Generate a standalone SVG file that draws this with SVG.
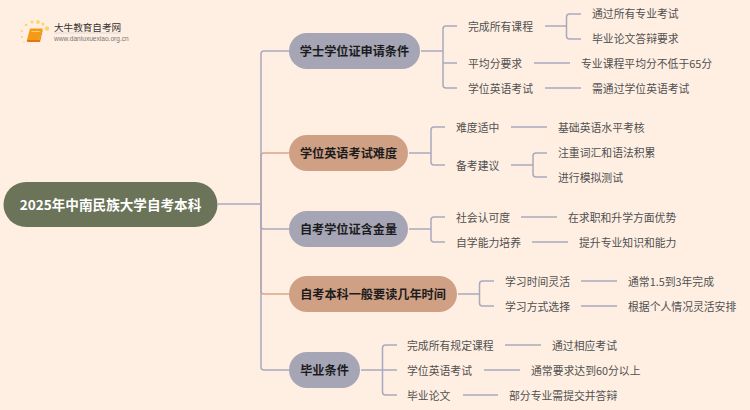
<svg xmlns="http://www.w3.org/2000/svg" width="750" height="410" viewBox="0 0 750 410">
<style>
text{font-family:"Noto Sans CJK SC","Noto Sans",sans-serif;dominant-baseline:central}
.l{font-size:10.830px;fill:#505050}
.b{font-size:12.150px;font-weight:700;fill:#1c1c1c;text-anchor:middle}
.c path{fill:none;stroke:#a9a9bd;stroke-width:1.500}
.c path.o{stroke:#d7a68b}
.gray{fill:#a5a5b6}.tan{fill:#d0a085}
</style>
<rect width="750" height="410" fill="#ffefe3"/>
<g id="connectors" class="c">
<path class="o" d="M261 204V156Q261 153 264 153H289"/>
<path class="o" d="M261 204V291Q261 294 264 294H289"/>
<path d="M218 204H261"/>
<path d="M261 204V54Q261 51 264 51H289"/>
<path d="M261 204V226Q261 229 264 229H289"/>
<path d="M261 204V367Q261 370 264 370H289"/>
<path d="M421 51H443M457 26H446Q443 26 443 29V85Q443 88 446 88H457M443 63H457"/>
<path d="M545 26H566.500M581 14H569.500Q566.500 14 566.500 17V36Q566.500 39 569.500 39H581"/>
<path d="M534 63H570M545 88H581"/>
<path d="M409 153H431M445 127H434Q431 127 431 130V162Q431 165 434 165H445"/>
<path d="M511 127H547M511 165H533M547 153H536Q533 153 533 156V174Q533 177 536 177H547"/>
<path d="M409 229H431M445 217H434Q431 217 431 220V239Q431 242 434 242H445"/>
<path d="M521 217H557M532 242H568"/>
<path d="M458 294H479.500M494 281H482.500Q479.500 281 479.500 284V303Q479.500 306 482.500 306H494"/>
<path d="M581 281H617M581 306H617"/>
<path d="M361 370H382.500M397 345H385.500Q382.500 345 382.500 348V392Q382.500 395 385.500 395H397M382.500 370H397"/>
<path d="M505 345H541M484 370H520M463 395H498"/>
</g>
<g id="logo">
<g fill="#fdd46a">
<circle cx="47" cy="28.500" r="2.200"/><circle cx="43" cy="24" r="1.600"/><circle cx="38" cy="22" r="1.900"/><circle cx="32" cy="22" r="1.600"/><circle cx="26" cy="25" r="1.300"/><circle cx="22" cy="31" r="1.100"/><circle cx="22" cy="37" r="1"/><circle cx="24" cy="42" r=".8"/>
</g>
<path d="M30 28.500H42.500L39.500 40H27Z" fill="#f59a16"/>
<path d="M27 40H39.500L42.500 28.500V31L40 42H29Q26 42 27 40Z" fill="#e0780c"/>
<path d="M31.500 31.500H39.500" stroke="#ffd27a" stroke-width="1"/>
<text x="54" y="26.500" font-size="9.600" fill="#333">大牛教育自考网</text>
<path d="M54 33H121" stroke="#ccc" stroke-width=".6"/>
<text x="54" y="38.500" font-size="6.600" fill="#777" style="font-family:'Liberation Sans',sans-serif">www.daniuxuexiao.org.cn</text>
</g>
<g id="root"><rect x="3.500" y="182" width="214" height="45" rx="22.500" fill="#6b7358"/><text x="110.500" y="203.500" text-anchor="middle" font-size="13.600" font-weight="700" fill="#fff">2025年中南民族大学自考本科</text></g>
<g id="n1"><rect class="gray" x="289" y="33" width="131" height="36" rx="18"/><text class="b" x="354.500" y="50.500">学士学位证申请条件</text></g>
<g id="n2"><rect class="tan" x="289" y="135" width="119" height="36" rx="18"/><text class="b" x="348.500" y="152.500">学位英语考试难度</text></g>
<g id="n3"><rect class="gray" x="289" y="211" width="119" height="36" rx="18"/><text class="b" x="348.500" y="228.500">自考学位证含金量</text></g>
<g id="n4"><rect class="tan" x="289" y="276" width="168" height="36" rx="18"/><text class="b" x="373" y="293.500">自考本科一般要读几年时间</text></g>
<g id="n5"><rect class="gray" x="289" y="352" width="71" height="36" rx="18"/><text class="b" x="324.500" y="369.500">毕业条件</text></g>
<g id="a1"><text class="l" x="468" y="25.500">完成所有课程</text></g>
<g id="a2"><text class="l" x="468" y="62.500">平均分要求</text></g>
<g id="a3"><text class="l" x="468" y="87.500">学位英语考试</text></g>
<g id="a4"><text class="l" x="592" y="13">通过所有专业考试</text></g>
<g id="a5"><text class="l" x="592" y="38">毕业论文答辩要求</text></g>
<g id="a6"><text class="l" x="581" y="62.500">专业课程平均分不低于65分</text></g>
<g id="a7"><text class="l" x="592" y="87.500">需通过学位英语考试</text></g>
<g id="b1"><text class="l" x="456" y="126.500">难度适中</text></g>
<g id="b2"><text class="l" x="456" y="164.500">备考建议</text></g>
<g id="b3"><text class="l" x="558" y="126.500">基础英语水平考核</text></g>
<g id="b4"><text class="l" x="558" y="151.500">注重词汇和语法积累</text></g>
<g id="b5"><text class="l" x="558" y="176.500">进行模拟测试</text></g>
<g id="c1"><text class="l" x="456" y="216.500">社会认可度</text></g>
<g id="c2"><text class="l" x="456" y="241.500">自学能力培养</text></g>
<g id="c3"><text class="l" x="568" y="216.500">在求职和升学方面优势</text></g>
<g id="c4"><text class="l" x="579" y="241.500">提升专业知识和能力</text></g>
<g id="d1"><text class="l" x="505" y="280.500">学习时间灵活</text></g>
<g id="d2"><text class="l" x="505" y="305.500">学习方式选择</text></g>
<g id="d3"><text class="l" x="628" y="280.500">通常1.5到3年完成</text></g>
<g id="d4"><text class="l" x="628" y="305.500">根据个人情况灵活安排</text></g>
<g id="e1"><text class="l" x="407" y="344.500">完成所有规定课程</text></g>
<g id="e2"><text class="l" x="407" y="369.500">学位英语考试</text></g>
<g id="e3"><text class="l" x="407" y="394.500">毕业论文</text></g>
<g id="e4"><text class="l" x="552" y="344.500">通过相应考试</text></g>
<g id="e5"><text class="l" x="531" y="369.500">通常要求达到60分以上</text></g>
<g id="e6"><text class="l" x="509" y="394.500">部分专业需提交并答辩</text></g>
</svg>
